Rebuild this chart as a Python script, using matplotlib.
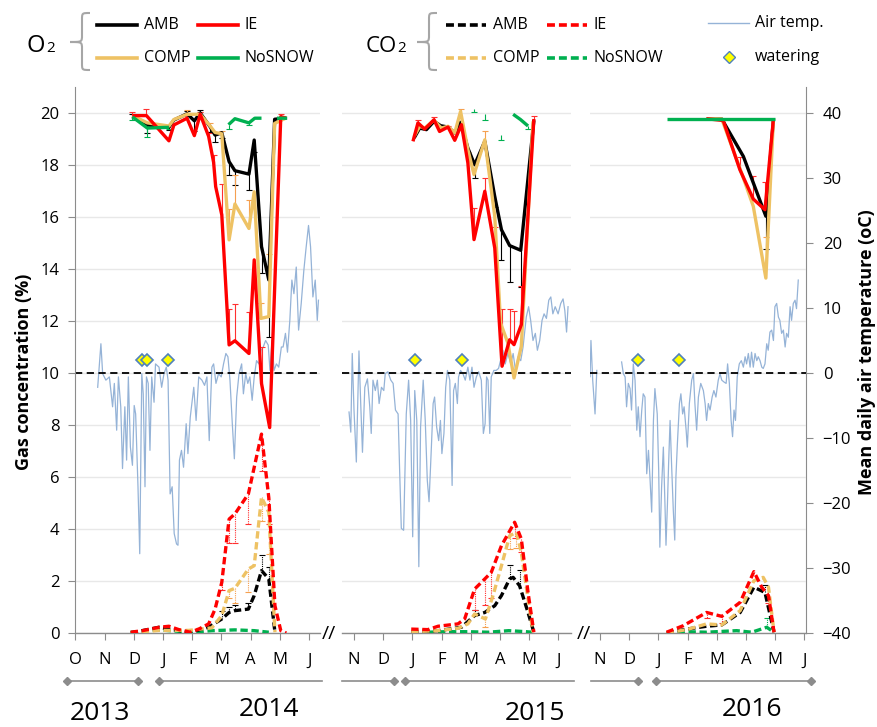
import numpy as np
import matplotlib
matplotlib.use('Agg')
import matplotlib.pyplot as plt
from matplotlib.lines import Line2D
from matplotlib.path import Path
from matplotlib.patches import PathPatch

plt.rcParams['font.family'] = ['Open Sans', 'DejaVu Sans']

W, H = 878, 727

# x values: months after 1 October of each winter (O=0, N=1, D=2, J=3 ... J=8)
MONTHS_2014 = ['O', 'N', 'D', 'J', 'F', 'M', 'A', 'M', 'J']
MONTHS_LATER = ['N', 'D', 'J', 'F', 'M', 'A', 'M', 'J']
YEARS = ['2013', '2014', '2015', '2016']

# ---- winter 2013/14 ----
O2_14_AMB_X = [1.95, 2.46, 3.20, 3.37, 3.82, 4.07, 4.27, 4.61, 4.78, 5.01, 5.26, 5.46, 5.94, 6.12, 6.37, 6.62, 6.82, 7.22]
O2_14_AMB = [19.88, 19.54, 19.45, 19.73, 19.97, 19.70, 20.00, 19.47, 19.15, 19.24, 18.13, 17.78, 17.65, 18.96, 14.86, 13.58, 19.76, 19.80]
O2_14_AMB_ERR = [0.1, -0.3, -0.1, 0, 0.1, -0.4, 0.1, -0.2, -0.25, -0.2, -0.5, -0.55, -0.6, -0.45, -1.0, -2.2, 0, 0]
O2_14_IE_X = [1.95, 2.43, 3.20, 3.37, 3.82, 4.07, 4.27, 4.56, 4.73, 4.80, 5.01, 5.26, 5.46, 5.94, 6.12, 6.37, 6.65, 7.03, 7.22]
O2_14_IE = [19.90, 19.90, 18.93, 19.54, 19.80, 19.13, 19.95, 19.10, 18.10, 17.17, 16.08, 11.08, 11.24, 10.75, 14.35, 9.60, 7.90, 19.86, 19.80]
O2_14_IE_ERR = [0.15, 0.25, 0, 0, 0.1, 0, 0.1, 0.15, 0.3, 0, 1.2, 1.4, 1.4, 1.6, 0, 1.4, 0, 0.1, 0]
O2_14_COMP_X = [1.95, 2.46, 3.20, 3.37, 3.82, 4.27, 4.61, 4.78, 5.01, 5.26, 5.46, 5.94, 6.12, 6.35, 6.62, 6.82, 7.20]
O2_14_COMP = [19.90, 19.62, 19.50, 19.75, 19.95, 19.95, 19.50, 19.25, 19.20, 15.12, 16.50, 15.56, 16.97, 12.10, 12.17, 19.60, 19.80]
O2_14_COMP_ERR = [0, 0, 0, 0, 0.15, 0.1, 0.1, 0, 0.1, 1.2, 1.1, 1.1, 0, 0.6, 2.4, 0, 0]
O2_14_NOSNOW_X = [1.95, 2.46, 3.20, np.nan, 5.24, 5.46, 5.94, 6.14, 6.37, np.nan, 6.90, 7.25]
O2_14_NOSNOW = [19.85, 19.42, 19.45, np.nan, 19.55, 19.78, 19.62, 19.80, 19.80, np.nan, 19.80, 19.80]
O2_14_NOSNOW_ERR = [-0.1, -0.35, -0.05, 0, -0.15, 0, -0.1, 0, 0, 0, 0, 0]

CO2_14_AMB_X = [1.89, 2.86, 3.20, 3.93, 4.56, 5.01, 5.26, 5.46, 5.92, 6.12, 6.37, 6.62, 6.83]
CO2_14_AMB = [0.0, 0.22, 0.15, 0.03, 0.22, 0.54, 0.79, 0.86, 0.92, 1.44, 2.40, 2.08, 0.03]
CO2_14_AMB_ERR = [0, 0, 0, 0, 0, 0.3, 0.2, 0.2, 0.25, 0, 0.6, 0.45, 0]
CO2_14_IE_X = [1.89, 2.29, 2.86, 3.20, 3.54, 3.93, 4.22, 4.56, 4.78, 5.01, 5.26, 5.46, 5.92, 6.37, 6.62, 6.83, 7.03, 7.22]
CO2_14_IE = [0.03, 0.09, 0.22, 0.26, 0.13, 0.03, 0.15, 0.35, 0.92, 1.95, 4.38, 4.58, 5.35, 7.65, 5.20, 1.05, 0.09, 0.0]
CO2_14_IE_ERR = [0, 0, 0, 0, 0, 0, 0, 0, 0, -0.3, -0.9, -1.1, -1.15, -1.4, -1.0, 0, 0, 0]
CO2_14_COMP_X = [1.89, 2.86, 3.88, 4.67, 5.01, 5.26, 5.46, 5.92, 6.12, 6.37, 6.62, 6.83]
CO2_14_COMP = [0.0, 0.10, 0.10, 0.20, 0.67, 1.63, 1.72, 2.46, 2.59, 5.22, 4.64, 0.03]
CO2_14_COMP_ERR = [0, 0, 0, 0, 0, -0.3, -0.55, -0.9, 0, -0.9, -1.6, 0]
CO2_14_NOSNOW_X = [1.89, 2.86, 3.93, 4.67, 5.46, 6.12, 6.62]
CO2_14_NOSNOW = [0.03, 0.12, 0.03, 0.09, 0.12, 0.09, 0.03]
CO2_14_NOSNOW_ERR = [0, 0, 0, 0, 0, 0, 0]

WATER_14 = [2.29, 2.46, 3.17]

TEMP_14 = [
    (0.76, -2.2), (0.87, 4.5), (0.93, -0.1), (1.04, -1.1), (1.16, -0.6), (1.27, -5.2), (1.33, -1.6),
    (1.41, -8.8), (1.47, -0.6), (1.55, -5.2), (1.61, -14.7), (1.69, -5.2), (1.75, -13.4), (1.81, -0.6),
    (1.88, -11.4), (1.95, -14.2), (2.01, -5.0), (2.06, -6.3), (2.14, -17.5), (2.20, -27.8), (2.27, -0.1),
    (2.32, -3.2), (2.38, -17.5), (2.43, -0.6), (2.49, -1.6), (2.55, -11.9), (2.61, -0.6), (2.69, -4.5),
    (2.74, 1.4), (2.86, 0.9), (2.95, -2.2), (3.03, -0.1), (3.11, 0.9), (3.17, -1.1), (3.24, -18.6),
    (3.31, -17.5), (3.38, -24.7), (3.46, -26.3), (3.51, -26.5), (3.56, -13.4), (3.63, -11.9), (3.70, -14.5),
    (3.79, -7.8), (3.85, -12.4), (3.93, -6.8), (4.05, -2.2), (4.13, -7.3), (4.22, -0.6), (4.33, -1.1),
    (4.42, -1.9), (4.50, -0.6), (4.58, -10.4), (4.67, 0.9), (4.73, 1.4), (4.81, -1.6), (4.90, -0.1),
    (4.99, -0.6), (5.07, 1.4), (5.15, 3.0), (5.22, 2.5), (5.29, -1.1), (5.37, -7.8), (5.44, -13.2),
    (5.52, -3.7), (5.60, -0.1), (5.69, 1.4), (5.75, -3.2), (5.83, -0.1), (5.90, -1.6), (5.97, -0.6),
    (6.05, -4.2), (6.12, -0.6), (6.20, 1.9), (6.28, 1.4), (6.35, 3.5), (6.43, 4.0), (6.51, 5.0),
    (6.60, 4.3), (6.66, 0.4), (6.73, 5.0), (6.80, 0.4), (6.88, 1.4), (6.96, 0.9), (7.05, 4.0),
    (7.11, 4.0), (7.19, 6.1), (7.26, 3.2), (7.34, 8.1), (7.41, 14.3), (7.48, 12.2), (7.56, 16.3),
    (7.64, 6.6), (7.73, 10.7), (7.82, 15.8), (7.90, 19.4), (7.98, 22.7), (8.05, 19.4), (8.13, 11.7),
    (8.21, 14.3), (8.28, 8.1), (8.32, 11.2)]

# ---- winter 2014/15 ----
O2_15_AMB_X = [3.06, 3.25, 3.48, 3.74, 3.97, 4.22, 4.45, 4.65, 4.90, 5.13, 5.48, 5.82, 6.05, 6.33, 6.71, 7.16]
O2_15_AMB = [19.04, 19.42, 19.36, 19.68, 19.51, 19.46, 19.23, 19.64, 18.65, 18.01, 18.91, 16.79, 15.51, 14.90, 14.72, 19.72]
O2_15_AMB_ERR = [0, 0, 0, 0, -0.1, 0, 0, 0, 0, -0.5, 0, -0.4, -1.15, -1.4, -1.4, 0]
O2_15_IE_X = [3.02, 3.19, 3.42, 3.74, 3.93, 4.22, 4.45, 4.68, 4.90, 5.11, 5.48, 5.82, 6.07, 6.33, 6.48, 6.73, 7.16]
O2_15_IE = [18.91, 19.62, 19.38, 19.74, 19.29, 19.46, 18.95, 19.55, 18.08, 15.13, 16.99, 14.81, 10.26, 11.28, 11.09, 11.86, 19.77]
O2_15_IE_ERR = [0, 0.1, 0, 0.1, 0, 0.05, 0, 0, 0, 1.2, 0.5, 0.8, 2.2, 1.2, 1.3, 1.5, 0.1]
O2_15_COMP_X = [3.06, 3.25, 3.42, 3.74, 3.99, 4.22, 4.45, 4.65, 4.90, 5.11, 5.48, 5.82, 6.02, 6.27, 6.48, 6.73, 7.13]
O2_15_COMP = [19.10, 19.49, 19.42, 19.72, 19.42, 19.49, 19.23, 20.06, 18.59, 17.63, 18.97, 16.03, 11.92, 11.15, 9.81, 11.03, 19.68]
O2_15_COMP_ERR = [0, 0, 0, 0, 0, 0, 0, 0.1, -0.1, 0, 0.35, 0, 0, 0, 0, 0, 0]
O2_15_NOSNOW_X = [5.11, np.nan, 5.50, np.nan, 6.05, np.nan, 6.45, 6.70, 6.96]
O2_15_NOSNOW = [20.15, np.nan, 19.95, np.nan, 19.15, np.nan, 19.95, 19.75, 19.50]
O2_15_NOSNOW_ERR = [-0.1, 0, -0.2, 0, -0.2, 0, 0, 0, -0.1]

CO2_15_AMB_X = [2.96, 3.88, 4.68, 5.13, 5.48, 5.82, 6.05, 6.33, 6.45, 6.67, 6.96, 7.16]
CO2_15_AMB = [0.05, 0.09, 0.22, 0.67, 0.79, 1.05, 1.44, 2.08, 2.14, 1.82, 0.79, 0.03]
CO2_15_AMB_ERR = [0, 0, 0, 0.2, 0, 0, 0, 0.55, 0, 0.6, 0, 0]
CO2_15_IE_X = [2.96, 3.53, 3.88, 4.56, 4.79, 5.13, 5.48, 5.70, 6.05, 6.50, 6.73, 6.96, 7.16]
CO2_15_IE = [0.15, 0.13, 0.26, 0.35, 0.54, 1.69, 2.08, 2.33, 3.36, 4.26, 3.62, 1.56, 0.03]
CO2_15_IE_ERR = [0, 0, 0, 0, 0, -0.8, -1.0, -1.0, 0, -0.6, -0.5, 0, 0]
CO2_15_COMP_X = [2.96, 3.88, 4.56, 4.90, 5.13, 5.50, 5.76, 6.05, 6.33, 6.56, 6.73, 6.96, 7.13]
CO2_15_COMP = [0.05, 0.09, 0.18, 0.35, 0.73, 0.54, 1.44, 2.59, 3.74, 3.87, 3.10, 1.31, 0.03]
CO2_15_COMP_ERR = [0, 0, 0, 0, 0, -0.3, 0, 0, -0.5, -0.6, 0, 0, 0]
CO2_15_NOSNOW_X = [3.50, 4.20, 4.90, 5.60, 6.30, 6.90, 7.10]
CO2_15_NOSNOW = [0.03, 0.05, 0.05, 0.03, 0.09, 0.05, 0.03]
CO2_15_NOSNOW_ERR = [0, 0, 0, 0, 0, 0, 0]

WATER_15 = [3.10, 4.71]

TEMP_15 = [
    (0.83, -6.0), (0.89, -9.1), (0.94, 3.0), (1.00, -5.7), (1.08, -13.7), (1.17, 3.4), (1.23, -4.7),
    (1.29, -12.2), (1.37, -2.2), (1.46, -0.9), (1.54, -5.2), (1.59, -9.3), (1.65, -1.1), (1.73, -2.7),
    (1.80, -1.1), (1.86, -4.7), (1.94, -2.2), (2.02, -2.7), (2.07, -0.1), (2.16, 0.2), (2.26, -1.1),
    (2.34, -1.6), (2.42, -5.7), (2.51, -6.3), (2.56, -14.5), (2.62, -23.9), (2.70, -24.2), (2.79, -6.3),
    (2.87, -1.1), (2.94, -7.3), (3.01, -25.2), (3.08, -2.7), (3.15, -7.3), (3.22, -29.8), (3.28, -8.3),
    (3.37, -1.1), (3.44, -7.3), (3.51, -16.5), (3.57, -19.8), (3.65, -11.4), (3.71, -4.7), (3.76, -3.7),
    (3.83, -8.3), (3.90, -10.4), (3.96, -7.3), (4.01, -12.4), (4.08, -9.3), (4.14, -2.2), (4.20, 0.4),
    (4.28, -1.1), (4.36, -17.3), (4.41, -2.7), (4.47, -1.6), (4.54, -4.7), (4.58, -0.6), (4.65, 0.4),
    (4.73, -0.1), (4.81, -1.1), (4.90, 0.9), (4.97, -1.1), (5.04, 0.9), (5.11, -2.2), (5.19, -0.6),
    (5.27, 0.2), (5.36, -1.1), (5.43, -9.3), (5.49, -7.8), (5.54, -0.6), (5.59, -1.1), (5.65, -9.3),
    (5.70, -0.6), (5.79, 0.4), (5.87, 0.4), (5.95, 0.7), (6.05, 2.5), (6.10, 3.5), (6.18, 1.4),
    (6.27, 3.0), (6.37, 1.4), (6.45, 3.0), (6.53, 0.4), (6.62, 2.5), (6.71, 1.9), (6.79, 4.0),
    (6.84, 6.1), (6.90, 8.6), (6.98, 10.2), (7.05, 8.1), (7.13, 5.0), (7.21, 6.1), (7.28, 3.5),
    (7.36, 5.0), (7.44, 8.1), (7.51, 9.1), (7.59, 8.4), (7.67, 11.2), (7.74, 11.7), (7.81, 9.1),
    (7.89, 10.2), (7.99, 9.1), (8.08, 10.7), (8.16, 11.4), (8.22, 9.6), (8.28, 6.3), (8.33, 10.2)]

# ---- winter 2015/16 ----
O2_16_AMB_X = [4.65, 5.17, 5.91, 6.68, 6.94]
O2_16_AMB = [19.78, 19.77, 18.33, 16.03, 19.78]
O2_16_AMB_ERR = [0, 0, 0, -1.25, 0]
O2_16_IE_X = [4.65, 5.22, 5.79, 6.25, 6.65, 6.94]
O2_16_IE = [19.78, 19.71, 17.82, 16.69, 16.28, 19.78]
O2_16_IE_ERR = [0, 0, 0.5, 0.9, 1.05, 0]
O2_16_COMP_X = [4.65, 5.17, 5.85, 6.25, 6.68, 6.94]
O2_16_COMP = [19.78, 19.77, 17.69, 16.41, 13.65, 19.78]
O2_16_COMP_ERR = [0, 0, 0, 0, 1.6, 0]
O2_16_NOSNOW_X = [3.28, 3.85, 4.65, 5.17, 5.80, 6.27, 6.68, 6.99]
O2_16_NOSNOW = [19.78, 19.78, 19.78, 19.78, 19.78, 19.78, 19.78, 19.78]
O2_16_NOSNOW_ERR = [0, 0, 0, 0, 0, 0, 0, 0]

CO2_16_AMB_X = [3.28, 3.97, 4.65, 5.17, 5.80, 6.27, 6.65, 6.96]
CO2_16_AMB = [0.0, 0.15, 0.26, 0.31, 0.79, 1.76, 1.56, 0.03]
CO2_16_AMB_ERR = [0, 0, 0, 0, 0, 0, 0.3, 0]
CO2_16_IE_X = [3.28, 3.85, 4.65, 5.17, 5.80, 6.27, 6.54, 6.77, 6.96]
CO2_16_IE = [0.03, 0.28, 0.79, 0.64, 1.18, 2.36, 1.76, 1.44, 0.03]
CO2_16_IE_ERR = [0, 0, -0.2, -0.25, 0, 0, 0, -0.3, 0]
CO2_16_COMP_X = [3.28, 3.97, 4.65, 5.17, 5.80, 6.27, 6.59, 6.77, 6.96]
CO2_16_COMP = [0.0, 0.13, 0.35, 0.31, 0.86, 2.01, 2.14, 1.76, 0.03]
CO2_16_COMP_ERR = [0, 0, 0, 0, 0, 0, 0, 0, 0]
CO2_16_NOSNOW_X = [3.28, 3.97, 4.65, 5.68, 6.20, 6.71, 6.96]
CO2_16_NOSNOW = [0.0, 0.05, 0.03, 0.09, 0.03, 0.22, 0.03]
CO2_16_NOSNOW_ERR = [0, 0, 0, 0, 0, 0.35, 0]

WATER_16 = [2.31, 3.72]

TEMP_16 = [
    (0.60, 5.5), (0.66, -0.6), (0.69, 5.0), (0.75, -1.1), (0.83, -6.3), (0.89, 0.4), (np.nan, np.nan),
    (1.74, 1.7), (1.80, -0.1), (1.86, -0.6), (1.91, -5.2), (1.97, -1.6), (2.03, -2.4), (2.08, -5.7),
    (2.14, 1.4), (2.20, -1.1), (2.26, -8.8), (2.31, -5.2), (2.37, -9.8), (2.43, -5.7), (2.48, -3.2),
    (2.54, -3.7), (2.60, -15.5), (2.66, -11.9), (2.71, -16.0), (2.77, -21.4), (2.83, -7.3), (2.88, -2.4),
    (2.96, -6.3), (3.01, -15.0), (3.05, -26.8), (3.11, -17.5), (3.17, -11.4), (3.23, -21.1), (3.26, -26.5),
    (3.31, -20.1), (3.35, -13.9), (3.40, -7.3), (3.45, -13.9), (3.51, -21.1), (3.56, -25.7), (3.60, -16.0),
    (3.65, -10.9), (3.72, -4.7), (3.77, -3.2), (3.83, -6.3), (3.88, -5.2), (3.95, -8.8), (3.99, -11.4),
    (4.06, -4.7), (4.14, -1.1), (4.20, -0.1), (4.25, -4.7), (4.31, -8.8), (4.37, -3.7), (4.45, -1.6),
    (4.54, -2.7), (4.60, -4.7), (4.65, -7.3), (4.71, -4.7), (4.77, -5.7), (4.84, -3.7), (4.90, -2.7),
    (4.97, -3.7), (5.05, -1.1), (5.11, -0.1), (5.17, -1.1), (5.25, -1.4), (5.32, -1.6), (5.37, 1.4),
    (5.43, -1.6), (5.49, -7.3), (5.54, -9.8), (5.59, -5.7), (5.64, -7.3), (5.70, -0.6), (5.77, 1.4),
    (5.84, 1.9), (5.91, 0.9), (5.97, 2.5), (6.02, 1.4), (6.08, 3.0), (6.14, 0.9), (6.19, 3.2),
    (6.25, 0.9), (6.31, 3.0), (6.37, 1.9), (6.42, 2.5), (6.48, 1.9), (6.54, 0.9), (6.59, 0.7),
    (6.65, 1.4), (6.71, 4.5), (6.76, 3.5), (6.82, 6.3), (6.88, 6.6), (6.94, 5.0), (6.99, 10.2),
    (7.05, 10.7), (7.11, 8.6), (7.16, 8.1), (7.22, 6.1), (7.28, 6.6), (7.34, 4.0), (7.39, 6.1),
    (7.45, 5.5), (7.51, 10.2), (7.56, 8.1), (7.62, 10.7), (7.68, 11.2), (7.73, 9.9), (7.79, 14.3)]

WATER_LEVEL = 10.5

COLORS = {'AMB': '#000000', 'IE': '#FF0000', 'COMP': '#EEC264', 'NoSNOW': '#00B050'}
ERR_COLORS = {'AMB': '#000000', 'IE': '#FF3030', 'COMP': '#F5A050', 'NoSNOW': '#00B050'}
TEMP_COLOR = '#95B3D7'
AXIS_GRAY = '#8C8C8C'
GRID_GRAY = '#E8E8E8'
DIAMOND_EDGE = '#4F81BD'


def fx(x):
    return x / W


def fy(y):
    return 1 - y / H


def gas_to_temp(g):
    return (g - 10) * 4


def temp_to_gas(t):
    return t / 4 + 10


def draw_errors(ax, x, y, err, color, dotted):
    x, y, err = np.asarray(x, float), np.asarray(y, float), np.asarray(err, float)
    keep = (err != 0) & ~np.isnan(y)
    ls = (0, (1, 1)) if dotted else '-'
    ax.vlines(x[keep], y[keep], y[keep] + err[keep], colors=color, lw=0.8, linestyles=ls, zorder=3)
    ax.plot(x[keep], y[keep] + err[keep], ls='none', marker='_', ms=5, mew=0.8, color=color, zorder=3)


def draw_panel(ax, temp, water, o2, co2):
    tx = [p[0] for p in temp]
    ty = [temp_to_gas(p[1]) for p in temp]
    ax.plot(tx, ty, color=TEMP_COLOR, lw=0.9, zorder=1)
    ax.axhline(10, color='black', lw=1.3, ls=(0, (4, 2.5)), zorder=2)
    ax.plot(water, [WATER_LEVEL] * len(water), ls='none', marker='D', ms=6.5,
            mfc='#FFFF00', mec=DIAMOND_EDGE, mew=1.2, zorder=6)
    for name, x, y, err in co2:
        draw_errors(ax, x, y, err, ERR_COLORS[name], True)
        ax.plot(x, y, color=COLORS[name], lw=2.4, ls=(0, (2.2, 1.1)), zorder=4)
    for name, x, y, err in o2:
        draw_errors(ax, x, y, err, ERR_COLORS[name], False)
        ax.plot(x, y, color=COLORS[name], lw=2.4, zorder=5,
                solid_joinstyle='round', solid_capstyle='butt')


fig = plt.figure(figsize=(W / 100, H / 100), dpi=100)

# panel extents in pixels and where month 0 (October) sits
panel_px = [(75, 320, 75.5), (342, 571, 354 - 29.2), (590, 806, 600 - 29.2)]
MONTH_PX = 29.2
axes = []
for i, (x0, x1, m0) in enumerate(panel_px):
    ax = fig.add_axes([fx(x0), fy(633), (x1 - x0) / W, 546 / H])
    ax.set_xlim((x0 - m0) / MONTH_PX, (x1 - m0) / MONTH_PX)
    ax.set_ylim(0, 21)
    ax.set_facecolor('none')
    for s in ['top', 'right', 'left']:
        ax.spines[s].set_visible(False)
    ax.spines['bottom'].set_color(AXIS_GRAY)
    ax.spines['bottom'].set_linewidth(1.0)
    ax.set_yticks(range(0, 21, 2))
    ax.yaxis.grid(True, color=GRID_GRAY, lw=1.0, zorder=0)
    ax.set_axisbelow(True)
    if i == 0:
        ax.set_xticks(range(0, 9))
        ax.set_xticklabels(MONTHS_2014)
        ax.spines['left'].set_visible(True)
        ax.spines['left'].set_color(AXIS_GRAY)
        ax.tick_params(axis='y', direction='out', length=5, color=AXIS_GRAY, labelsize=12, pad=6)
    else:
        ax.set_xticks(range(1, 9))
        ax.set_xticklabels(MONTHS_LATER)
        ax.tick_params(axis='y', length=0, labelleft=False)
    ax.tick_params(axis='x', direction='out', length=5, color=AXIS_GRAY, labelsize=12, pad=9)
    axes.append(ax)

draw_panel(axes[0], TEMP_14, WATER_14,
           [('AMB', O2_14_AMB_X, O2_14_AMB, O2_14_AMB_ERR),
            ('COMP', O2_14_COMP_X, O2_14_COMP, O2_14_COMP_ERR),
            ('IE', O2_14_IE_X, O2_14_IE, O2_14_IE_ERR),
            ('NoSNOW', O2_14_NOSNOW_X, O2_14_NOSNOW, O2_14_NOSNOW_ERR)],
           [('NoSNOW', CO2_14_NOSNOW_X, CO2_14_NOSNOW, CO2_14_NOSNOW_ERR),
            ('AMB', CO2_14_AMB_X, CO2_14_AMB, CO2_14_AMB_ERR),
            ('COMP', CO2_14_COMP_X, CO2_14_COMP, CO2_14_COMP_ERR),
            ('IE', CO2_14_IE_X, CO2_14_IE, CO2_14_IE_ERR)])
draw_panel(axes[1], TEMP_15, WATER_15,
           [('AMB', O2_15_AMB_X, O2_15_AMB, O2_15_AMB_ERR),
            ('COMP', O2_15_COMP_X, O2_15_COMP, O2_15_COMP_ERR),
            ('IE', O2_15_IE_X, O2_15_IE, O2_15_IE_ERR),
            ('NoSNOW', O2_15_NOSNOW_X, O2_15_NOSNOW, O2_15_NOSNOW_ERR)],
           [('NoSNOW', CO2_15_NOSNOW_X, CO2_15_NOSNOW, CO2_15_NOSNOW_ERR),
            ('AMB', CO2_15_AMB_X, CO2_15_AMB, CO2_15_AMB_ERR),
            ('COMP', CO2_15_COMP_X, CO2_15_COMP, CO2_15_COMP_ERR),
            ('IE', CO2_15_IE_X, CO2_15_IE, CO2_15_IE_ERR)])
draw_panel(axes[2], TEMP_16, WATER_16,
           [('AMB', O2_16_AMB_X, O2_16_AMB, O2_16_AMB_ERR),
            ('COMP', O2_16_COMP_X, O2_16_COMP, O2_16_COMP_ERR),
            ('IE', O2_16_IE_X, O2_16_IE, O2_16_IE_ERR),
            ('NoSNOW', O2_16_NOSNOW_X, O2_16_NOSNOW, O2_16_NOSNOW_ERR)],
           [('NoSNOW', CO2_16_NOSNOW_X, CO2_16_NOSNOW, CO2_16_NOSNOW_ERR),
            ('AMB', CO2_16_AMB_X, CO2_16_AMB, CO2_16_AMB_ERR),
            ('COMP', CO2_16_COMP_X, CO2_16_COMP, CO2_16_COMP_ERR),
            ('IE', CO2_16_IE_X, CO2_16_IE, CO2_16_IE_ERR)])

# right temperature axis
sec = axes[2].secondary_yaxis('right', functions=(gas_to_temp, temp_to_gas))
sec.set_yticks(range(-40, 41, 10))
sec.spines['right'].set_color(AXIS_GRAY)
sec.tick_params(direction='out', length=5, color=AXIS_GRAY, labelsize=12, pad=7)

fig.text(fx(24), fy(372), 'Gas concentration (%)', rotation=90, fontsize=13,
         fontweight='bold', ha='center', va='center')
fig.text(fx(867), fy(352), 'Mean daily air temperature (oC)', rotation=90, fontsize=13,
         fontweight='bold', ha='center', va='center')

# axis break marks
for bx in [329, 584]:
    fig.text(fx(bx), fy(634), '//', fontsize=14, ha='center', va='center')

# year spans under the month letters
spans = [(67, 138, True, True), (159, 322, True, False), (342, 394, False, True),
         (405, 574, True, False), (591, 638, False, True), (656, 811, True, True)]
for a, b, da, db in spans:
    fig.add_artist(Line2D([fx(a), fx(b)], [fy(681), fy(681)], transform=fig.transFigure,
                          color=AXIS_GRAY, lw=1.2))
    ends = [p for p, d in [(a, da), (b, db)] if d]
    if ends:
        fig.add_artist(Line2D([fx(p) for p in ends], [fy(681)] * len(ends), transform=fig.transFigure,
                              ls='none', marker='D', ms=4.5, color=AXIS_GRAY))

for label, (x, y) in zip(YEARS, [(100, 714), (269, 710), (535, 714), (752, 710)]):
    fig.text(fx(x), fy(y), label, fontsize=19, ha='center', va='center')


# legend
def brace(x_tip, x_mid, x_end, y_top, y_mid, y_bot, r=7):
    pts = [(x_end, y_top), (x_mid, y_top), (x_mid, y_top), (x_mid, y_top + r),
           (x_mid, y_mid - r),
           (x_mid, y_mid), (x_mid, y_mid), (x_tip, y_mid),
           (x_mid, y_mid), (x_mid, y_mid), (x_mid, y_mid + r),
           (x_mid, y_bot - r),
           (x_mid, y_bot), (x_mid, y_bot), (x_end, y_bot)]
    codes = [Path.MOVETO] + [Path.CURVE4] * 3 + [Path.LINETO] + [Path.CURVE4] * 6 + \
            [Path.LINETO] + [Path.CURVE4] * 3
    verts = [(fx(px), fy(py)) for px, py in pts]
    fig.add_artist(PathPatch(Path(verts, codes), transform=fig.transFigure,
                             fc='none', ec='#A6A6A6', lw=1.5))


fig.text(fx(27), fy(52), 'O', fontsize=17, va='baseline')
fig.text(fx(46), fy(52), '2', fontsize=11, va='baseline')
fig.text(fx(366), fy(52), 'CO', fontsize=16, va='baseline')
fig.text(fx(397), fy(52), '2', fontsize=11, va='baseline')
brace(70, 82, 90, 13, 42, 70)
brace(417, 429, 437, 13, 42, 70)

legend_rows = [('AMB', 97, 25), ('IE', 198, 25), ('COMP', 97, 58), ('NoSNOW', 198, 58)]
for dx, ls in [(0, '-'), (349, (0, (2.2, 1.1)))]:
    for name, x, y in legend_rows:
        fig.add_artist(Line2D([fx(x + dx), fx(x + dx + 40)], [fy(y), fy(y)], transform=fig.transFigure,
                              color=COLORS[name], lw=2.6, ls=ls))
        fig.text(fx(x + dx + 47), fy(y), name, fontsize=11.5, va='center')

fig.add_artist(Line2D([fx(708), fx(749)], [fy(23), fy(23)], transform=fig.transFigure,
                      color=TEMP_COLOR, lw=1.0))
fig.text(fx(755), fy(23), 'Air temp.', fontsize=11.5, va='center')
fig.add_artist(Line2D([fx(729)], [fy(57)], transform=fig.transFigure, ls='none', marker='D',
                      ms=6.5, mfc='#FFFF00', mec=DIAMOND_EDGE, mew=1.0))
fig.text(fx(755), fy(57), 'watering', fontsize=11.5, va='center')

fig.savefig('out.png', dpi=100)
